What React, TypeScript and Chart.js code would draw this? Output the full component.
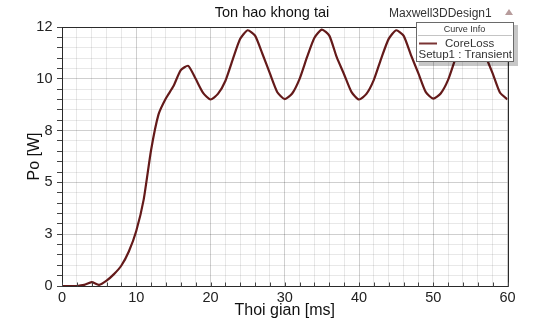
import React, { useEffect, useRef } from 'react';
import { Chart, registerables } from 'chart.js';

Chart.register(...registerables);

// ---- data ----
const timeMs = [
  0, 1, 2, 3, 4, 5, 6, 7, 8, 9,
  10, 11, 12, 13, 14, 15, 16, 17, 18, 19,
  20, 21, 22, 23, 24, 25, 26, 27, 28, 29,
  30, 31, 32, 33, 34, 35, 36, 37, 38, 39,
  40, 41, 42, 43, 44, 45, 46, 47, 48, 49,
  50, 51, 52, 53, 54, 55, 56, 57, 58, 59,
  60,
];
const coreLoss = [
  0, 0, 0, 0.05, 0.18, 0.05, 0.25, 0.55, 0.95, 1.6,
  2.55, 4.0, 6.3, 7.95, 8.7, 9.25, 10.0, 10.2, 9.6, 8.95,
  8.64, 8.9, 9.5, 10.5, 11.45, 11.85, 11.6, 10.75, 9.85, 8.98,
  8.66, 8.92, 9.6, 10.6, 11.5, 11.88, 11.6, 10.6, 9.8, 8.98,
  8.64, 8.9, 9.55, 10.55, 11.45, 11.85, 11.6, 10.7, 9.85, 8.98,
  8.68, 8.92, 9.55, 10.55, 11.45, 11.85, 11.6, 10.7, 9.85, 8.95,
  8.64,
];
const xTickLabels = ['0', '10', '20', '30', '40', '50', '60'];
const yTickLabels = ['0', '3', '5', '8', '10', '12'];
const chartTitle = 'Ton hao khong tai';
const designName = 'Maxwell3DDesign1';
const legendHeader = 'Curve Info';
const seriesName = 'CoreLoss';
const seriesSetup = 'Setup1 : Transient';
const xTitle = 'Thoi gian [ms]';
const yTitle = 'Po [W]';

const FONT = "'Liberation Sans', Arial, sans-serif";
const LINE_COLOR = '#641a1a';
const MINOR = 'rgba(0,0,0,0.09)';
const MAJOR = 'rgba(0,0,0,0.19)';

const decorPlugin = {
  id: 'decor',
  afterDraw(chart: any) {
    const { ctx, chartArea: a, scales } = chart;
    ctx.save();
    // frame
    ctx.strokeStyle = '#2a2a2a';
    ctx.lineWidth = 1;
    const L = Math.round(a.left) + 0.5;
    const T = Math.round(a.top) + 0.5;
    const R = Math.round(a.right) + 0.5;
    const B = Math.round(a.bottom) + 0.5;
    ctx.beginPath();
    ctx.moveTo(L, B);
    ctx.lineTo(L, T);
    ctx.lineTo(R, T);
    ctx.lineTo(R, B);
    ctx.lineTo(L, B);
    ctx.stroke();
    // inner x tick marks
    const xs = scales.x;
    ctx.beginPath();
    ctx.strokeStyle = '#444';
    xs.ticks.forEach((t: any) => {
      const px = Math.round(xs.getPixelForValue(t.value)) + 0.5;
      ctx.moveTo(px, B);
      ctx.lineTo(px, B - 4);
    });
    ctx.stroke();

    // title texts
    ctx.fillStyle = '#111';
    ctx.font = `14.5px ${FONT}`;
    ctx.textAlign = 'center';
    ctx.textBaseline = 'middle';
    ctx.fillText(chartTitle, 272, 13);

    ctx.fillStyle = '#333';
    ctx.font = `12px ${FONT}`;
    ctx.textAlign = 'left';
    ctx.fillText(designName, 389, 14);

    // small triangle
    ctx.fillStyle = '#b79c9c';
    ctx.beginPath();
    ctx.moveTo(505, 15);
    ctx.lineTo(513, 15);
    ctx.lineTo(509, 9);
    ctx.closePath();
    ctx.fill();

    // legend box
    const bx = 416, by = 22, bw = 97, bh = 39;
    ctx.fillStyle = 'rgba(0,0,0,0.22)';
    ctx.fillRect(bx + 3, by + 3, bw + 2, bh + 2);
    ctx.fillStyle = '#fff';
    ctx.fillRect(bx, by, bw, bh);
    ctx.strokeStyle = '#6a6a6a';
    ctx.strokeRect(bx + 0.5, by + 0.5, bw, bh);
    ctx.strokeStyle = '#c4c4c4';
    ctx.beginPath();
    ctx.moveTo(bx + 2, by + 13.5);
    ctx.lineTo(bx + bw - 1, by + 13.5);
    ctx.stroke();
    ctx.fillStyle = '#333';
    ctx.font = `9px ${FONT}`;
    ctx.textAlign = 'center';
    ctx.fillText(legendHeader, bx + bw / 2, by + 7.5);
    ctx.strokeStyle = '#7a3434';
    ctx.lineWidth = 2;
    ctx.beginPath();
    ctx.moveTo(bx + 3, by + 21.5);
    ctx.lineTo(bx + 21, by + 21.5);
    ctx.stroke();
    ctx.font = `11.5px ${FONT}`;
    ctx.textAlign = 'left';
    ctx.fillStyle = '#333';
    ctx.fillText(seriesName, bx + 29, by + 21.5);
    ctx.fillText(seriesSetup, bx + 2.5, by + 32.5);
    ctx.restore();
  },
};

export default function App() {
  const canvasRef = useRef<HTMLCanvasElement | null>(null);

  useEffect(() => {
    document.body.style.margin = '0';
    const canvas = canvasRef.current;
    if (!canvas) return;
    const chart = new Chart(canvas, {
      type: 'line',
      data: {
        datasets: [
          {
            label: seriesName,
            data: timeMs.map((t, i) => ({ x: t, y: coreLoss[i] })),
            borderColor: LINE_COLOR,
            borderWidth: 2.2,
            pointRadius: 0,
            tension: 0.2,
            fill: false,
          },
        ],
      },
      options: {
        animation: false,
        responsive: false,
        devicePixelRatio: 1,
        layout: { padding: { top: 27, right: 36.5, left: 0, bottom: 0 } },
        plugins: {
          legend: { display: false },
          title: { display: false },
          tooltip: { enabled: false },
        },
        scales: {
          x: {
            type: 'linear',
            min: 0,
            max: 60,
            afterFit: (s: any) => {
              s.height = 36;
            },
            ticks: {
              stepSize: 2,
              autoSkip: false,
              maxRotation: 0,
              padding: 3,
              color: '#222',
              font: { family: FONT, size: 14.5 },
              callback: (_v: any, i: number) => (i % 5 === 0 ? xTickLabels[i / 5] : ''),
            },
            grid: {
              drawTicks: false,
              color: (c: any) => (c.index % 5 === 0 ? MAJOR : MINOR),
            },
            border: { display: true, color: '#2a2a2a' },
            title: {
              display: true,
              text: xTitle,
              color: '#111',
              font: { family: FONT, size: 16 },
              padding: { top: 0, bottom: 2 },
            },
          },
          y: {
            type: 'linear',
            min: 0,
            max: 12,
            afterFit: (s: any) => {
              s.width = 62;
            },
            ticks: {
              stepSize: 0.48,
              autoSkip: false,
              padding: 4.5,
              color: '#222',
              font: { family: FONT, size: 14.5 },
              callback: (_v: any, i: number) => (i % 5 === 0 ? yTickLabels[i / 5] : ''),
            },
            grid: {
              drawTicks: true,
              tickLength: 5,
              tickColor: '#444',
              color: (c: any) => (c.index % 5 === 0 ? MAJOR : MINOR),
            },
            border: { display: true, color: '#2a2a2a' },
            title: {
              display: true,
              text: yTitle,
              color: '#111',
              font: { family: FONT, size: 16 },
              padding: { top: 25, bottom: 0 },
            },
          },
        },
      },
      plugins: [decorPlugin],
    });
    return () => chart.destroy();
  }, []);

  return (
    <div style={{ width: 544, height: 322, background: '#fff' }}>
      <canvas ref={canvasRef} width={544} height={322} style={{ display: 'block' }} />
    </div>
  );
}
